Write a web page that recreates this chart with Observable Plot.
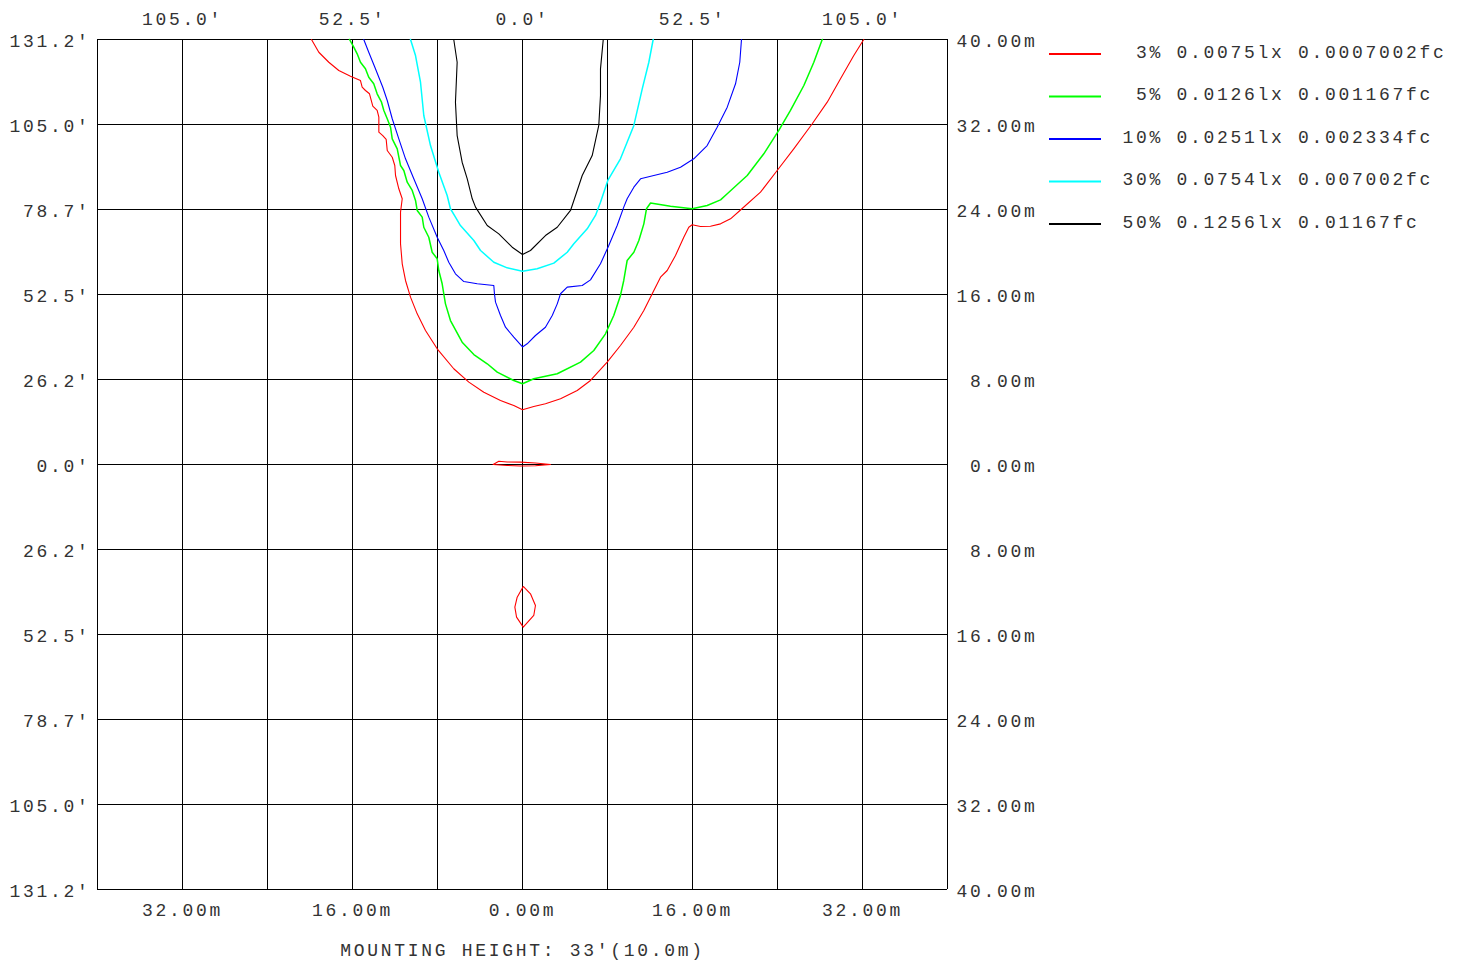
<!DOCTYPE html>
<html>
<head>
<meta charset="utf-8">
<script src="https://cdn.jsdelivr.net/npm/d3@7"></script>
<script src="https://cdn.jsdelivr.net/npm/@observablehq/plot@0.6"></script>
<style>
  body { margin: 0; background: #fff; }
  #wrap { position: relative; width: 1464px; height: 963px; overflow: hidden; background: #fff; }
  #chart svg { font-family: "Liberation Mono", "DejaVu Sans Mono", monospace; font-size: 18px; letter-spacing: 2.7px; }
  #legendLines { position: absolute; left: 0; top: 0; }
  .lgtext { position: absolute; left: 1109px; white-space: pre; font-family: "Liberation Mono", "DejaVu Sans Mono", monospace; font-size: 18px; letter-spacing: 2.7px; line-height: 20px; color: #333; }
</style>
</head>
<body>
<div id="wrap"><div id="chart"></div><svg id="legendLines" width="1464" height="260"></svg><div id="legend"></div></div>
<script>
// ---- tick values and labels ----
const gridValues = [-40, -32, -24, -16, -8, 0, 8, 16, 24, 32, 40];
const xLabelTicks = [-32, -16, 0, 16, 32];
const xTopLabels = ["105.0'", "52.5'", "0.0'", "52.5'", "105.0'"];
const xBottomLabels = ["32.00m", "16.00m", "0.00m", "16.00m", "32.00m"];
const yLabelTicks = [40, 32, 24, 16, 8, 0, -8, -16, -24, -32, -40];
const yLeftLabels = ["131.2'", "105.0'", "78.7'", "52.5'", "26.2'", "0.0'", "26.2'", "52.5'", "78.7'", "105.0'", "131.2'"];
const yRightLabels = ["40.00m", "32.00m", "24.00m", "16.00m", " 8.00m", " 0.00m", " 8.00m", "16.00m", "24.00m", "32.00m", "40.00m"];
const captionText = "MOUNTING HEIGHT: 33'(10.0m)";

// ---- legend ----
const contourPct = ["  3%", "  5%", " 10%", " 30%", " 50%"];
const contourLux = ["0.0075lx", "0.0126lx", "0.0251lx", "0.0754lx", "0.1256lx"];
const contourFc = ["0.0007002fc", "0.001167fc", "0.002334fc", "0.007002fc", "0.01167fc"];
const contourColors = ["#ff0000", "#00ff00", "#0000ff", "#00ffff", "#000000"];

// ---- isolux contours, [x m, y m] ----
const red3Main = [[-19.86,40.00],[-19.17,38.80],[-18.23,37.86],[-17.29,37.08],[-16.19,36.55],[-15.25,36.14],[-15.09,35.51],[-14.78,35.20],[-14.40,34.89],[-14.09,33.72],[-13.68,33.32],[-13.52,32.69],[-13.52,31.28],[-13.15,30.96],[-12.83,30.59],[-12.73,29.55],[-12.26,28.92],[-12.02,28.14],[-11.95,27.20],[-11.64,25.95],[-11.32,25.01],[-11.48,23.75],[-11.48,22.65],[-11.48,20.77],[-11.32,18.89],[-11.01,17.32],[-10.54,15.75],[-9.91,14.18],[-9.13,12.61],[-8.03,10.89],[-6.47,9.01],[-5.05,7.75],[-3.64,6.80],[-2.07,6.02],[-0.82,5.55],[0,5.15],[1.06,5.46],[2.16,5.71],[3.58,6.18],[5.15,6.96],[6.40,7.91],[7.97,9.63],[9.22,11.20],[10.48,12.92],[11.42,14.49],[12.21,16.07],[12.99,17.63],[13.62,18.26],[14.40,19.67],[15.18,21.39],[15.65,22.33],[15.97,22.56],[16.75,22.40],[17.69,22.43],[18.64,22.65],[19.58,23.12],[20.52,23.95],[22.40,25.63],[23.97,27.67],[25.53,29.71],[27.27,32.07],[28.68,34.10],[29.93,36.30],[31.18,38.49],[32.12,40.00]];
const red3Lens = [[-2.76,0],[-2.23,0.31],[-1.44,0.24],[-0.19,0.22],[1.22,0.14],[2.64,0],[1.22,-0.12],[-0.19,-0.14],[-1.44,-0.09],[-2.76,0]];
const red3Drop = [[0.07,-11.48],[0.75,-12.17],[1.22,-13.27],[1.06,-14.21],[0.07,-15.31],[-0.56,-14.37],[-0.72,-13.43],[-0.50,-12.49],[0.07,-11.48]];
const green5 = [[-16.28,40.00],[-15.88,39.28],[-15.56,38.65],[-15.25,37.86],[-14.78,37.24],[-14.47,36.45],[-14.00,35.83],[-13.68,34.89],[-13.27,34.10],[-13.05,33.32],[-12.73,32.54],[-12.42,31.75],[-12.26,30.65],[-11.79,29.71],[-11.48,28.14],[-11.17,27.67],[-10.85,26.57],[-10.38,25.79],[-10.07,24.85],[-9.91,23.91],[-9.44,23.28],[-9.29,22.33],[-8.82,21.39],[-8.50,19.98],[-8.03,19.36],[-7.88,18.26],[-7.56,17.01],[-7.41,16.07],[-7.25,15.12],[-6.78,13.55],[-5.68,11.51],[-4.58,10.35],[-3.32,9.48],[-2.38,8.69],[-0.82,7.91],[0,7.60],[1.06,8.07],[3.27,8.54],[5.46,9.63],[6.71,10.73],[7.81,12.30],[8.59,14.02],[9.22,15.91],[9.53,17.32],[9.69,18.26],[9.85,19.20],[10.48,19.98],[10.95,21.08],[11.42,22.65],[11.67,24.07],[12.05,24.61],[13.93,24.31],[15.97,24.07],[17.38,24.38],[18.64,24.91],[19.27,25.48],[21.15,27.20],[22.71,29.24],[24.12,31.44],[25.22,33.32],[26.48,35.67],[27.42,37.86],[28.21,40.00]];
const blue10 = [[-14.94,40.00],[-14.47,38.80],[-13.84,37.24],[-13.15,35.51],[-12.73,34.26],[-12.26,32.54],[-11.64,30.65],[-11.01,28.77],[-10.23,26.89],[-9.44,25.01],[-8.82,23.28],[-8.03,21.39],[-7.41,20.14],[-6.94,19.04],[-6.31,17.95],[-5.52,17.22],[-4.26,17.01],[-2.70,16.85],[-2.64,16.07],[-2.54,15.28],[-2.07,14.02],[-1.60,12.92],[-0.82,11.98],[0,11.06],[0.44,11.36],[1.22,12.14],[2.16,12.92],[2.80,14.02],[3.27,15.12],[3.58,16.07],[4.21,16.69],[5.62,16.85],[6.40,17.38],[7.34,18.89],[8.12,20.61],[8.91,22.49],[9.53,24.22],[9.85,25.01],[10.48,26.10],[11.11,26.89],[12.36,27.20],[13.62,27.51],[14.87,27.98],[16.12,28.77],[17.38,30.02],[18.32,31.75],[19.27,33.63],[20.05,35.83],[20.45,37.86],[20.61,40.00]];
const cyan30 = [[-10.54,40.00],[-10.07,38.49],[-9.60,35.98],[-9.29,32.85],[-8.66,30.02],[-7.88,27.51],[-7.09,25.32],[-6.78,24.07],[-6.31,23.28],[-5.84,22.49],[-4.58,21.08],[-3.95,20.14],[-2.70,19.04],[-1.44,18.51],[0,18.19],[1.38,18.42],[2.95,18.95],[4.21,19.98],[4.83,20.77],[6.09,22.18],[6.87,23.44],[7.34,24.69],[8.03,26.73],[9.22,28.77],[10.48,31.91],[11.27,35.36],[11.89,37.86],[12.30,40.00]];
const black50 = [[-6.47,40.00],[-6.15,37.86],[-6.31,34.10],[-6.15,30.96],[-5.68,28.45],[-5.20,26.89],[-4.73,25.01],[-4.42,24.22],[-3.32,22.49],[-2.23,21.71],[-0.97,20.45],[0,19.76],[0.75,20.14],[2.16,21.55],[3.27,22.33],[4.52,23.91],[5.15,25.79],[5.62,27.20],[6.56,29.08],[7.18,31.91],[7.34,34.73],[7.34,37.24],[7.60,40.00]];

const paths = [
  {pts: red3Main, c: 0}, {pts: red3Lens, c: 0}, {pts: red3Drop, c: 0},
  {pts: green5, c: 1}, {pts: blue10, c: 2}, {pts: cyan30, c: 3}, {pts: black50, c: 4}
];
const widths = [1.1, 1.5, 1.1, 1.5, 1.1];
const textFill = "#333";

const chart = Plot.plot({
  width: 1040, height: 963,
  marginLeft: 97, marginRight: 93, marginTop: 39, marginBottom: 74,
  x: {domain: [-40, 40], axis: null},
  y: {domain: [-40, 40], axis: null},
  style: {fontFamily: '"Liberation Mono", "DejaVu Sans Mono", monospace', fontSize: "18px", background: "#fff"},
  marks: [
    Plot.ruleX(gridValues, {stroke: "#000", strokeWidth: 1}),
    Plot.ruleY(gridValues, {stroke: "#000", strokeWidth: 1}),
    ...paths.map(p => Plot.line(p.pts, {x: d => d[0], y: d => d[1], stroke: contourColors[p.c], strokeWidth: widths[p.c], curve: "linear"})),
    Plot.text(xLabelTicks, {x: d => d, text: (d, i) => xTopLabels[i], frameAnchor: "top", lineAnchor: "middle", dy: -20, fill: textFill}),
    Plot.text(xLabelTicks, {x: d => d, text: (d, i) => xBottomLabels[i], frameAnchor: "bottom", lineAnchor: "middle", dy: 21, fill: textFill}),
    Plot.text(yLabelTicks, {y: d => d, text: (d, i) => yLeftLabels[i], frameAnchor: "left", textAnchor: "end", lineAnchor: "middle", dx: -7, dy: 2, fill: textFill}),
    Plot.text(yLabelTicks, {y: d => d, text: (d, i) => yRightLabels[i], frameAnchor: "right", textAnchor: "start", lineAnchor: "middle", dx: 9, dy: 2, fill: textFill}),
    Plot.text([captionText], {text: d => d, frameAnchor: "bottom", lineAnchor: "middle", dy: 61, fill: textFill})
  ]
});
document.getElementById("chart").appendChild(chart);

const legend = document.getElementById("legend");
const legendSvg = d3.select("#legendLines");
contourPct.forEach((p, i) => {
  const y = 54 + i * 42.5;
  legendSvg.append("line")
    .attr("x1", 1049).attr("x2", 1101)
    .attr("y1", y).attr("y2", y)
    .attr("stroke", contourColors[i])
    .attr("stroke-width", 1.8);
  const tx = document.createElement("div");
  tx.className = "lgtext";
  tx.style.top = (y - 11.5) + "px";
  tx.textContent = p + " " + contourLux[i] + " " + contourFc[i];
  legend.appendChild(tx);
});
</script>
</body>
</html>
